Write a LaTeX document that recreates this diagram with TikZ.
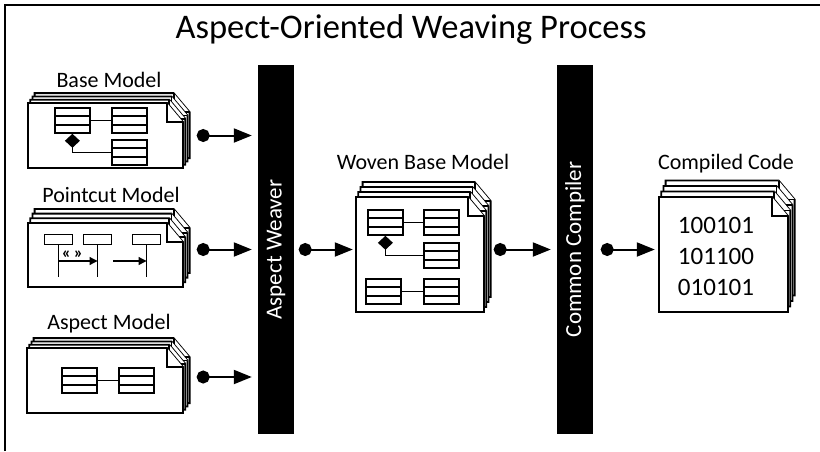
\documentclass[tikz,border=0pt]{standalone}
\usepackage{fontspec}
\setmainfont{Carlito}
\usepackage{graphicx}
\usetikzlibrary{arrows.meta,positioning,calc}

% one sheet of paper with a dog-ear: x, y (top left), width, height
\newcommand{\sheet}[4]{%
  \filldraw[sheet] (#1,#2) -- (#1+#3-16,#2) -- (#1+#3,#2+19) -- (#1+#3,#2+#4) -- (#1,#2+#4) -- cycle;
  \draw[sheet] (#1+#3-16,#2) -- (#1+#3-16,#2+19) -- (#1+#3,#2+19);
}
% pile of sheets, front sheet becomes node #1
\newcommand{\docstack}[6]{%
  \foreach \k in {3,2,1}{\sheet{#2+2.2*\k}{#3-#6*\k}{#4}{#5}}
  \sheet{#2}{#3}{#4}{#5}
  \node[page, minimum width=#4, minimum height=#5] (#1) at (#2+#4/2,#3+#5/2) {};
}
% class box with three compartments
\newcommand{\umlclass}[3]{%
  \node[classbox] (#1) at (#2,#3) {};
  \draw[classline] ($(#1.north west)!1/3!(#1.south west)$) -- ($(#1.north east)!1/3!(#1.south east)$)
    ($(#1.north west)!2/3!(#1.south west)$) -- ($(#1.north east)!2/3!(#1.south east)$);
}

\begin{document}
\begin{tikzpicture}[
  x=1pt, y=-1pt,
  sheet/.style={draw=black, fill=white, line width=1.8pt, line join=miter},
  page/.style={inner sep=0},
  classbox/.style={draw, fill=white, line width=1.8pt, minimum width=35, minimum height=25, inner sep=0, anchor=north west},
  classline/.style={line width=1.5pt},
  assoc/.style={line width=1.5pt},
  head/.style={draw, line width=1.1pt, minimum width=28, minimum height=10, inner sep=0, anchor=north west},
  lifeline/.style={line width=1.1pt},
  msg/.style={line width=1.1pt, -{Triangle[length=8pt,width=8pt]}},
  lbl/.style={font=\fontsize{22}{22}\selectfont, anchor=base, inner sep=0},
  bar/.style={fill=black, text=white, minimum width=36, minimum height=369, inner sep=0, font=\fontsize{23}{23}\selectfont},
  flow/.style={line width=2pt, {Circle[length=13pt]}-{Triangle[length=18pt,width=14pt]}},
]
  \useasboundingbox (0,0) rectangle (820,451);
  \draw[line width=2pt] (5,451) -- (5,5) -- (820,5);
  \node[font=\fontsize{34.5}{36}\selectfont, anchor=base, inner sep=0] (title) at (411,38) {Aspect-Oriented Weaving Process};

  % input models
  \docstack{basedoc}{28}{103}{155}{65}{3.3}
  \node[lbl] (baselbl) at (109,87) {Base Model};
  \umlclass{ba}{54}{107}
  \umlclass{bb}{111}{107}
  \umlclass{bc}{111}{139}
  \draw[assoc] (ba) -- (bb);
  \draw[assoc, {Diamond[length=14pt,width=15pt]}-] (ba.south) |- (bc.west);

  \docstack{pcdoc}{28}{223}{155}{64}{4.7}
  \node[lbl] (pclbl) at (111,202) {Pointcut Model};
  \node[head] (lla) at (44,234) {};
  \node[head] (llb) at (83,234) {};
  \node[head] (llc) at (132,234) {};
  \foreach \l in {lla,llb,llc}
    \draw[lifeline] (\l.south) -- (\l.south |- 0,277);
  \draw[msg] (lla.south |- 0,261) -- (llb.south |- 0,261);
  \coordinate (msgsrc) at (113,261);
  \draw[msg] (msgsrc) -- (llc.south |- msgsrc);
  \node[font=\fontsize{17}{17}\selectfont\bfseries, inner sep=0] (stereo) at (72.5,255) {«\,»};

  \docstack{aspdoc}{27}{348}{156}{65}{3.3}
  \node[lbl] (asplbl) at (109,329) {Aspect Model};
  \umlclass{aa}{61}{367}
  \umlclass{ab}{118}{367}
  \draw[assoc] (aa) -- (ab);

  % the two processing steps
  \node[bar] (weaver) at (276,249.5) {\rotatebox{90}{Aspect Weaver}};
  \node[bar] (compiler) at (575,249.5) {\rotatebox{90}{Common Compiler}};

  % woven result
  \docstack{wovendoc}{356}{197}{128}{115}{5}
  \node[lbl] (wovenlbl) at (423,169) {Woven Base Model};
  \umlclass{wa}{367}{209}
  \umlclass{wb}{423}{209}
  \umlclass{wc}{423}{242}
  \umlclass{wd}{365}{278}
  \umlclass{we}{423}{278}
  \draw[assoc] (wa) -- (wb);
  \draw[assoc, {Diamond[length=14pt,width=15pt]}-] (wa.south) |- (wc.west);
  \draw[assoc] (wd) -- (we);

  % compiled output
  \docstack{codedoc}{659}{197}{129}{115}{5.5}
  \node[lbl] (codelbl) at (726,169) {Compiled Code};
  \node[align=left, font=\fontsize{25}{31}\selectfont, inner sep=0] (bits) at (716,256) {100101\\101100\\010101};

  % flows
  \coordinate (aspout) at ([yshift=3.5pt]aspdoc.east);
  \draw[flow, shorten <=13.5pt, shorten >=6pt] (basedoc.east) -- (weaver.west |- basedoc.east);
  \draw[flow, shorten <=13.5pt, shorten >=6pt] (pcdoc.east |- weaver.west) -- (weaver.west);
  \draw[flow, shorten <=13.5pt, shorten >=6pt] (aspout) -- (weaver.west |- aspout);
  \draw[flow, shorten <=4.5pt, shorten >=3pt] (weaver.east) -- (wovendoc.west |- weaver.east);
  \draw[flow, shorten <=9.5pt, shorten >=6pt] (wovendoc.east |- compiler.west) -- (compiler.west);
  \draw[flow, shorten <=7.5pt, shorten >=4pt] (compiler.east) -- (codedoc.west |- compiler.east);
\end{tikzpicture}
\end{document}
